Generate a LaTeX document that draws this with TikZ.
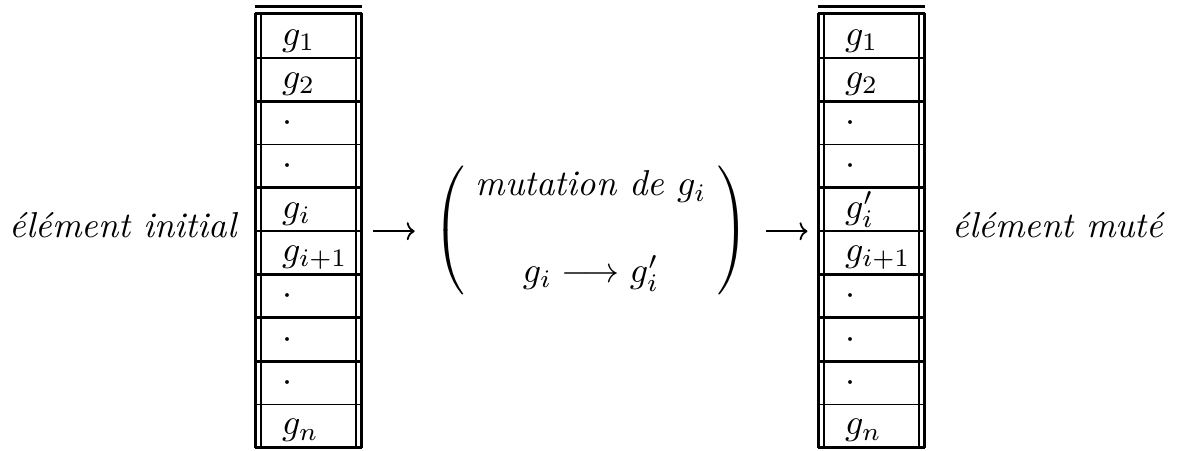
\documentclass[tikz,border=0pt]{standalone}
\usetikzlibrary{arrows.meta,calc}
\tikzset{
  px/.style={x=0.27778pt,y=-0.27778pt},
  cell/.style={rectangle,draw=none,inner sep=0pt,minimum width=29.167pt,minimum height=12.028pt},
  celltext/.style={anchor=base west,inner sep=0pt},
  label/.style={anchor=base,inner sep=0pt,font=\itshape},
  thickrule/.style={line width=0.8pt},
  thinrule/.style={line width=0.45pt},
  conn/.style={line width=0.5pt,-{Computer Modern Rightarrow[length=2.2pt,width=5pt]}},
}
\begin{document}
\begin{tikzpicture}[px]
\useasboundingbox (0,0) rectangle (1182,450);
% tables
\foreach \la/\lb/\w [count=\k] in {
  {$g_1$}/{$g_1$}/thickrule,
  {$g_2$}/{$g_2$}/thickrule,
  {$\cdot$}/{$\cdot$}/thinrule,
  {$\cdot$}/{$\cdot$}/thickrule,
  {$g_i$}/{$g'_i$}/thinrule,
  {$g_{i+1}$}/{$g_{i+1}$}/thickrule,
  {$\cdot$}/{$\cdot$}/thickrule,
  {$\cdot$}/{$\cdot$}/thickrule,
  {$\cdot$}/{$\cdot$}/thinrule,
  {$g_n$}/{$g_n$}/thickrule}{
  \pgfmathsetmacro{\yc}{14+43.3*(\k-0.5)}
  \node[cell] (L\k) at (308.5,\yc) {};
  \node[cell] (R\k) at (871.5,\yc) {};
  \node[celltext] (LT\k) at ($(L\k.south west)+(26,-13)$) {\la};
  \node[celltext] (RT\k) at ($(R\k.south west)+(26,-13)$) {\lb};
  \draw[\w] (L\k.south west) -- (L\k.south east);
  \draw[\w] (R\k.south west) -- (R\k.south east);
}
\foreach \t in {L,R}{
  \draw[thickrule] (\t1.north west) -- (\t1.north east);
  \draw[thickrule] ($(\t1.north west)+(0,-6.5)$) -- ($(\t1.north east)+(0,-6.5)$);
  \draw[thickrule] (\t1.north west) -- (\t10.south west);
  \draw[thickrule] (\t1.north east) -- (\t10.south east);
  \draw[thinrule] ($(\t1.north west)+(6,0)$) -- ($(\t10.south west)+(6,0)$);
  \draw[thinrule] ($(\t1.north east)+(-6,0)$) -- ($(\t10.south east)+(-6,0)$);
}
% labels
\node[label,anchor=base east] (init) at (237,237) {élément initial};
\node[label,anchor=base west] (mute) at (952,237) {élément muté};
% mutation
\node[inner sep=0pt] (mut) at (591,230.5)
  {$\arraycolsep=3pt\left(\begin{array}{c}\textit{mutation de }g_i\\ \\ g_i\longrightarrow g'_i\end{array}\right)$};
% connectors
\draw[conn,shorten <=3pt,shorten >=5pt] (L5.south east) -- (L5.south east -| mut.west);
\draw[conn,shorten <=4.7pt,shorten >=3pt] (mut.east |- R5.south west) -- (R5.south west);
\end{tikzpicture}
\end{document}
